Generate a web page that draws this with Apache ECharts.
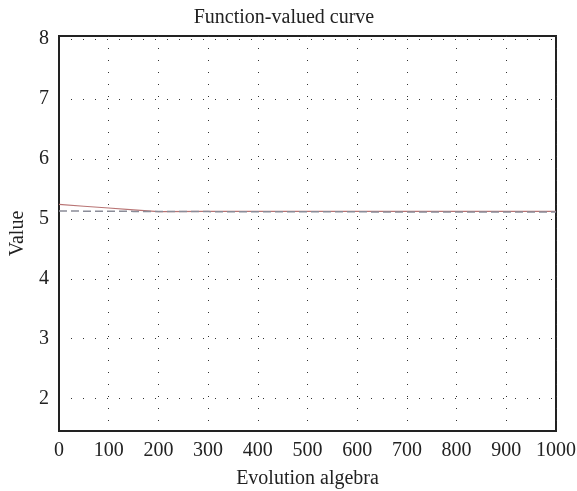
<!DOCTYPE html>
<html>
<head>
<meta charset="utf-8">
<script src="https://cdn.jsdelivr.net/npm/echarts@6/dist/echarts.min.js"></script>
<style>
  html, body { margin: 0; padding: 0; background: #fff; }
  #chart { width: 577px; height: 491px; }
</style>
</head>
<body>
<div id="chart"></div>
<script>
"use strict";

// generations on the x axis
var generations = [0, 50, 100, 150, 200, 300, 400, 500, 600, 700, 800, 900, 1000];
// function value curve (solid red)
var curveValues = [5.24, 5.21, 5.18, 5.15, 5.12, 5.125, 5.125, 5.125, 5.125, 5.125, 5.125, 5.125, 5.125];
// reference level (dashed grey)
var refValues = [5.13, 5.128, 5.126, 5.124, 5.122, 5.12, 5.118, 5.117, 5.116, 5.115, 5.115, 5.114, 5.113];
var yTicks = [2, 3, 4, 5, 6, 7, 8];

function pairs(xs, ys) {
	var out = [];
	for (var i = 0; i < xs.length; i++) {
		out.push([xs[i], ys[i]]);
	}
	return out;
}

var font = "'Liberation Serif', 'DejaVu Serif', serif";
var dotted = { color: "#333", width: 1, type: [1, 11] };

var chart = echarts.init(document.getElementById("chart"), null, { renderer: "canvas" });

chart.setOption({
	backgroundColor: "#fff",
	animation: false,
	title: {
		text: "Function-valued curve",
		left: 279,
		textAlign: "center",
		top: 3,
		textStyle: { fontFamily: font, fontSize: 20, fontWeight: "normal", color: "#222" }
	},
	grid: {
		left: 59, right: 21, top: 36, bottom: 60,
		outerBoundsMode: "none",
		containLabel: false,
		show: true,
		borderColor: "#222",
		borderWidth: 2,
		backgroundColor: "transparent"
	},
	xAxis: {
		type: "value",
		min: 0,
		max: 1000,
		interval: 100,
		name: "Evolution algebra",
		nameLocation: "middle",
		nameGap: 38,
		nameTextStyle: { fontFamily: font, fontSize: 20, color: "#222" },
		axisLine: { show: true, lineStyle: { color: "#222", width: 2 } },
		axisTick: { show: false },
		axisLabel: {
			fontFamily: font, fontSize: 20, color: "#222", margin: 10,
			formatter: function (v) { return String(v); }
		},
		splitLine: { show: true, lineStyle: dotted }
	},
	yAxis: {
		type: "value",
		min: 1.46,
		max: 8.05,
		name: "Value",
		nameLocation: "middle",
		nameGap: 31,
		nameTextStyle: { fontFamily: font, fontSize: 20, color: "#222" },
		axisLine: { show: true, lineStyle: { color: "#222", width: 2 } },
		axisTick: { show: false, customValues: yTicks },
		axisLabel: { fontFamily: font, fontSize: 20, color: "#222", margin: 10, customValues: yTicks },
		splitLine: { show: true, lineStyle: dotted }
	},
	series: [
		{
			name: "curve",
			type: "line",
			data: pairs(generations, curveValues),
			showSymbol: false,
			lineStyle: { color: "#b97474", width: 1.2 }
		},
		{
			name: "reference",
			type: "line",
			data: pairs(generations, refValues),
			showSymbol: false,
			lineStyle: { color: "#8a8c98", width: 1.5, type: [8, 4] }
		}
	]
});
</script>
</body>
</html>
